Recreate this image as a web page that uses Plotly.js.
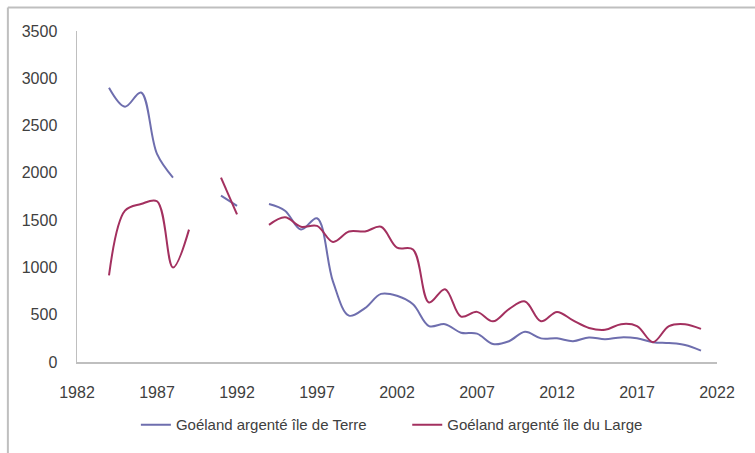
<!DOCTYPE html>
<html>
<head>
<meta charset="utf-8">
<script src="https://cdn.plot.ly/plotly-3.0.1.min.js"></script>
<style>
html,body{margin:0;padding:0;background:#fff;}
#chart{width:755px;height:453px;}
</style>
</head>
<body>
<div id="chart"></div>
<script>
var years = [1984,1985,1986,1987,1988,1989,1990,1991,1992,1993,1994,1995,1996,1997,1998,1999,2000,2001,2002,2003,2004,2005,2006,2007,2008,2009,2010,2011,2012,2013,2014,2015,2016,2017,2018,2019,2020,2021];
var terre = [2900,2700,2850,2200,1950,null,null,1760,1650,null,1670,1600,1400,1520,850,490,570,720,700,610,380,400,310,300,190,220,320,250,250,220,260,240,260,250,210,200,180,120];
var large = [915,1600,1670,1700,1000,1400,null,1950,1560,null,1450,1530,1430,1440,1270,1380,1380,1430,1210,1190,630,770,480,530,430,560,640,430,530,440,360,340,400,380,210,380,400,350];
var seriesNames = ["Goéland argenté île de Terre","Goéland argenté île du Large"];
var xTicks = [1982,1987,1992,1997,2002,2007,2012,2017,2022];
var yTicks = [0,500,1000,1500,2000,2500,3000,3500];

var fontFam = "'Liberation Sans', Arial, sans-serif";
var traces = [
  {x: years, y: terre, name: seriesNames[0], type: 'scatter', mode: 'lines',
   line: {color: '#6E6EAE', width: 2, shape: 'spline', smoothing: 1}, connectgaps: false, legend: 'legend'},
  {x: years, y: large, name: seriesNames[1], type: 'scatter', mode: 'lines',
   line: {color: '#A3305F', width: 2, shape: 'spline', smoothing: 1}, connectgaps: false, legend: 'legend2'}
];
var layout = {
  width: 755, height: 453,
  margin: {l: 77, r: 38, t: 31, b: 87},
  paper_bgcolor: '#fff', plot_bgcolor: '#fff',
  font: {family: fontFam, size: 16, color: '#404040'},
  xaxis: {range: [1982, 2022], tickvals: xTicks, ticktext: xTicks.map(String),
    showgrid: false, zeroline: false, showline: true, linecolor: '#BFBFBF', linewidth: 1.5,
    ticks: 'outside', ticklen: 15, tickcolor: 'rgba(0,0,0,0)', fixedrange: true},
  yaxis: {range: [0, 3500], tickvals: yTicks, ticktext: yTicks.map(String),
    showgrid: false, zeroline: false, showline: true, linecolor: '#BFBFBF', linewidth: 1.5,
    ticks: 'outside', ticklen: 15, tickcolor: 'rgba(0,0,0,0)', fixedrange: true},
  showlegend: true,
  legend: {orientation: 'h', x: 0.092, xanchor: 'left', y: -0.19, yanchor: 'middle',
    font: {family: fontFam, size: 15, color: '#404040'}, bgcolor: 'rgba(0,0,0,0)'},
  legend2: {orientation: 'h', x: 0.516, xanchor: 'left', y: -0.19, yanchor: 'middle',
    font: {family: fontFam, size: 15, color: '#404040'}, bgcolor: 'rgba(0,0,0,0)'},
  shapes: [
    {type: 'line', xref: 'paper', yref: 'paper', x0: -0.108, x1: 1.06, y0: 1.071, y1: 1.071,
     line: {color: '#BFBFBF', width: 2}},
    {type: 'line', xref: 'paper', yref: 'paper', x0: -0.108, x1: -0.108, y0: 1.071, y1: -0.3,
     line: {color: '#BFBFBF', width: 2}}
  ]
};
Plotly.newPlot('chart', traces, layout, {displayModeBar: false, staticPlot: true});
</script>
</body>
</html>
